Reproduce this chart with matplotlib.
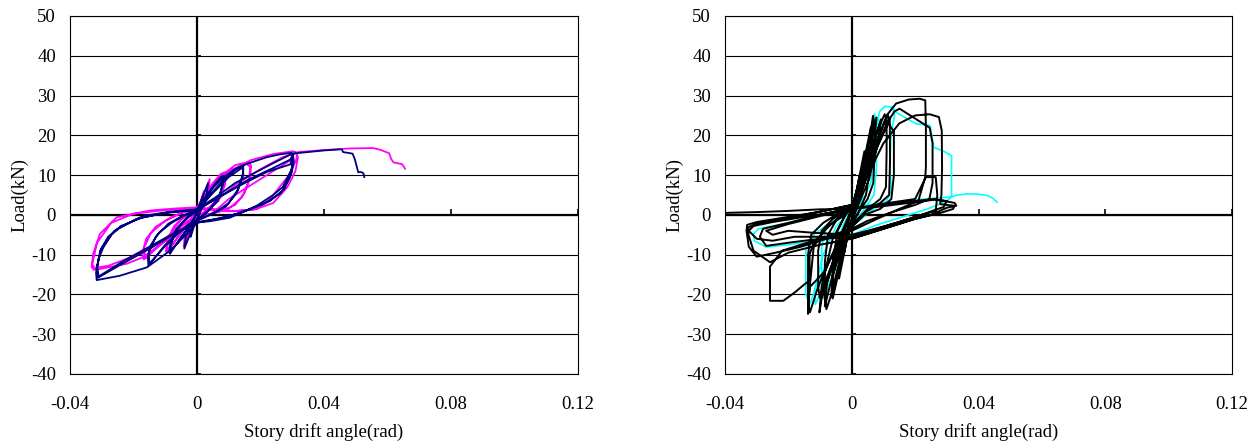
import matplotlib
matplotlib.use("Agg")
import matplotlib.pyplot as plt

plt.rcParams['font.family'] = ['Liberation Serif', 'DejaVu Serif']
plt.rcParams['font.size'] = 13.5

# ---- left panel : two specimens (magenta, navy) ----
mag_drift = [0, 0.001, 0.0022, 0.0015, 0.0004, -0.001, -0.0022, -0.0015, -0.0004,
             0.0015, 0.003, 0.004, 0.0037, 0.002, 0, -0.0015, -0.003, -0.0042, -0.0038, -0.002, 0,
             0.002, 0.005, 0.0075, 0.009, 0.0088, 0.0075, 0.005, 0.002, 0, -0.003, -0.006, -0.0085, -0.0095, -0.0092, -0.0078, -0.005, -0.002, 0,
             0.003, 0.006, 0.0092, 0.0088, 0.0068, 0.003, 0, -0.004, -0.0075, -0.0098, -0.0094, -0.0072, -0.003, 0,
             0.004, 0.008, 0.012, 0.0162, 0.017, 0.0168, 0.015, 0.012, 0.007, 0.002, -0.003, -0.008, -0.012, -0.0155, -0.0168, -0.0172, -0.016, -0.013, -0.008, -0.003, 0,
             0.005, 0.01, 0.0155, 0.0168, 0.0163, 0.0142, 0.01, 0.004, 0, -0.005, -0.01, -0.0162, -0.0168, -0.0145, -0.01, -0.004, 0,
             0.001, 0.0051, 0.0093, 0.0167, 0.024, 0.0303, 0.0316, 0.0312, 0.029, 0.026, 0.0225, 0.0188, 0.0114, 0.005, 0, -0.007, -0.0148, -0.0253, -0.0306, -0.0327, -0.0332, -0.0325, -0.0306, -0.0222, -0.0169, -0.0127, -0.0054, 0, 0.005,
             0.01, 0.02, 0.029, 0.031, 0.0318, 0.031, 0.0285, 0.024, 0.018, 0.01, 0, -0.01, -0.02, -0.027, -0.0315, -0.033, -0.0322, -0.028, -0.022, -0.015, -0.008, 0,
             0.006, 0.012, 0.02, 0.027, 0.032, 0.04, 0.048, 0.0555, 0.058, 0.0605, 0.0612, 0.0619, 0.063, 0.0645, 0.065, 0.0655]
mag_load = [0, 3, 6, 3, 0, -2.5, -5.5, -3, 0.3,
            4, 7, 9, 6, 2, 0, -2.5, -5.5, -8, -5, -1, 1.2,
            4, 8, 10.3, 10.8, 9, 5.5, 2.5, 0.5, -0.5, -2.5, -5.5, -8.5, -9.5, -7.5, -4, -1.2, 0.6, 1.5,
            5, 8.5, 10.5, 7.5, 3.5, 1, -0.3, -3.5, -7.2, -9.2, -6.5, -2.8, 0.5, 1.6,
            6.5, 10, 12.5, 13.3, 12.5, 9.5, 5.5, 2.5, 0.8, -0.2, -1.5, -4.5, -7.5, -10.5, -11.2, -9.5, -6, -3, -0.5, 1, 1.8,
            7.5, 11, 13, 12, 8.5, 4.5, 1.5, 0.2, -0.6, -2.8, -6.5, -10.8, -8.5, -4.5, -1.5, 0.8, 1.8,
            2.8, 7, 9.9, 13.7, 15.3, 16, 15.5, 13.7, 10, 7, 3.5, 1.5, 0.9, 1.5, 1.9, 1.6, 1.1, -0.6, -4.8, -9.8, -13.1, -13.8, -13.6, -12.3, -10.6, -8.1, -3.9, -1.4, 0.5,
            4, 9, 13.5, 15.8, 14.5, 11, 7, 3, 1.3, 0.9, 1.5, 1.2, 0.3, -2, -7, -12.5, -13.3, -12.8, -11, -8.5, -5, -1,
            3.5, 7.5, 11.5, 14.5, 15.8, 16.3, 16.7, 16.8, 16.3, 15.5, 14, 13.2, 13, 12.8, 12.3, 11.6]

navy_drift = [0, 0.001, 0.002, 0.0015, 0.0005, -0.001, -0.002, -0.0015, -0.0005,
              0.001, 0.0025, 0.0035, 0.003, 0.0015, 0, -0.0015, -0.003, -0.004, -0.0035, -0.0015, 0,
              0.002, 0.005, 0.0075, 0.0083, 0.0082, 0.007, 0.004, 0.001, -0.002, -0.005, -0.0075, -0.0085, -0.0083, -0.007, -0.004, -0.001,
              0.002, 0.0055, 0.0083, 0.0081, 0.0065, 0.003, 0, -0.003, -0.006, -0.0087, -0.0084, -0.0065, -0.003, 0,
              0.004, 0.008, 0.012, 0.0146, 0.0145, 0.013, 0.01, 0.006, 0.002, -0.002, -0.006, -0.01, -0.013, -0.0153, -0.0155, -0.0145, -0.012, -0.008, -0.004, 0,
              0.005, 0.01, 0.0145, 0.0146, 0.0125, 0.009, 0.004, 0, -0.005, -0.01, -0.015, -0.0152, -0.013, -0.009, -0.004, 0,
              0.004, 0.0082, 0.0125, 0.0167, 0.022, 0.026, 0.0298, 0.0303, 0.0298, 0.027, 0.024, 0.0188, 0.0104, 0.004, 0, -0.0022, -0.0085, -0.0158, -0.0243, -0.0316, -0.0318, -0.031, -0.0295, -0.027, -0.0243, -0.0169, -0.0085, 0,
              0.007, 0.015, 0.022, 0.0294, 0.0302, 0.0305, 0.0298, 0.0275, 0.023, 0.016, 0.008, 0, -0.007, -0.015, -0.023, -0.031, -0.0314, -0.0305, -0.028, -0.024, -0.017, -0.009, 0,
              0.008, 0.016, 0.024, 0.0296, 0.03, 0.0302, 0.0293, 0.0265, 0.021, 0.013, 0.005, 0, -0.008, -0.016, -0.024, -0.0312, -0.0316, -0.0302, -0.026, -0.019, -0.01, 0,
              0.006, 0.012, 0.018, 0.024, 0.03, 0.035, 0.04, 0.0456, 0.046, 0.049, 0.0497, 0.0508, 0.0515, 0.0524, 0.0527]
navy_load = [0, 2.5, 5, 2.5, -0.5, -3, -5.5, -3, 0,
             3, 6, 8, 5, 1.5, -1, -3.5, -6.5, -8.5, -5.5, -1.5, 0.5,
             3, 7, 9.5, 9.9, 8, 4.5, 1.5, -0.8, -2.5, -5.5, -8.5, -9.8, -8, -4.5, -1.5, 0.5,
             3.5, 7.5, 9.7, 7.5, 3.5, 0.5, -1.2, -3.5, -7, -9.5, -7, -3.5, -0.5, 1,
             5, 8.5, 11.3, 12.4, 10.5, 6.5, 3, 0.8, -0.8, -2, -4.5, -7.5, -10.5, -12.7, -10.5, -7.5, -4.5, -2, -0.2, 1,
             5.5, 9.5, 12, 10, 5.5, 2, 0, -1.3, -4, -7.8, -12.3, -9.5, -5.5, -2.2, 0, 1.2,
             6, 9.4, 11.8, 13.1, 14.5, 15.2, 15.6, 14, 11.5, 7, 5, 2.3, -0.7, -1.6, -1.9, -4, -9, -13.2, -15.3, -16.4, -14.5, -11, -8.2, -5, -3.2, -0.25, 0.8, 1.3,
             4.5, 8, 10.8, 12.7, 15.2, 13.5, 10.5, 6.5, 3.5, 1.2, -0.8, -1.8, -4.5, -8, -11.5, -15.5, -13, -9, -5.5, -2.8, -0.6, 0.6, 1.2,
             5, 8.8, 11.8, 14, 15, 13, 9.5, 5.5, 2.8, 0.3, -1.2, -2, -5.2, -9, -12.5, -15.8, -13.5, -8.5, -4, -1, 0.5, 1.4,
             4.5, 8, 10.5, 13, 15.4, 15.8, 16.2, 16.5, 15.8, 15.4, 14, 10.7, 10.8, 10.5, 9.5]

# ---- right panel : two specimens (cyan, black) ----
cyan_drift = [0, 0.002, 0.004, 0.005, 0.0048, 0.003, 0, -0.002, -0.004, -0.005, -0.0048, -0.003, 0,
              0.003, 0.0055, 0.0072, 0.0078, 0.0078, 0.007, 0.004, 0, -0.003, -0.006, -0.009, -0.0095, -0.0095, -0.008, -0.004, 0,
              0.003, 0.006, 0.0085, 0.0082, 0.006, 0.003, 0, -0.003, -0.006, -0.0085, -0.0115, -0.0118, -0.009, -0.005, 0,
              0.004, 0.007, 0.0088, 0.0105, 0.0128, 0.0135, 0.0125, 0.012, 0.0125, 0.011, 0.006, 0, -0.005, -0.009, -0.0133, -0.0145, -0.0145, -0.012, -0.006, 0,
              0.005, 0.009, 0.0128, 0.0141, 0.0203, 0.0247, 0.0259, 0.029, 0.0315, 0.0315, 0.03, 0.024, 0.016, 0.008, 0, -0.01, -0.02, -0.027, -0.0308, -0.031, -0.0295, -0.02, -0.01, 0,
              0.01, 0.02, 0.028, 0.0315, 0.0328, 0.0365, 0.04, 0.0427, 0.0445, 0.0459]
cyan_load = [0, 7, 14, 18, 12, 4, -1.5, -7, -13, -17, -11, -3, 1.5,
             9, 18, 25.4, 22, 12, 5, 1.5, -2.5, -8, -15, -21, -18, -8, -3, 0, 2.5,
             10, 19, 24, 18, 8, 3, -1, -6, -12, -17, -22.5, -19, -10, -3, 1.5,
             10, 20, 26, 27.3, 27.1, 25, 21, 12.7, 6, 3.5, 1, -3, -8, -14, -22.4, -20, -9, -5, -1.5, 2.5,
             12, 22, 27.1, 25.7, 22.9, 22.5, 17, 16, 14.9, 4.5, 3.5, 1.5, -0.5, -2.5, -5, -6.5, -7.5, -8.1, -6.5, -4.8, -3.5, -2, 0, 2,
             3, 3.8, 4.3, 4.5, 4.9, 5.3, 5.2, 4.9, 4.2, 3.2]

blk_drift = [0, 0.001, 0.002, 0.0025, 0.002, 0.0008, 0, -0.001, -0.002, -0.0025, -0.002, -0.0008, 0,
             0.0015, 0.003, 0.004, 0.0035, 0.002, 0, -0.0015, -0.003, -0.004, -0.0035, -0.002, 0,
             0.002, 0.0035, 0.005, 0.006, 0.0063, 0.0058, 0.0045, 0.002, 0, -0.002, -0.0035, -0.005, -0.006, -0.0063, -0.0058, -0.0045, -0.002, 0,
             0.003, 0.0055, 0.0068, 0.0062, 0.004, 0.001, -0.002, -0.004, -0.0065, -0.0058, -0.003, 0,
             0.003, 0.006, 0.0078, 0.0072, 0.0045, 0.001, -0.003, -0.006, -0.0085, -0.0078, -0.004, 0,
             0.002, 0.004, 0.0058, 0.0067, 0.0072, 0.0072, 0.0068, 0.005, 0.002, 0, -0.002, -0.004, -0.006, -0.008, -0.0085, -0.0085, -0.0075, -0.005, -0.002, 0,
             0.003, 0.0065, 0.0092, 0.0085, 0.0055, 0.0015, -0.003, -0.0065, -0.0095, -0.0102, -0.0095, -0.006, -0.002, 0,
             0.003, 0.006, 0.0085, 0.0104, 0.011, 0.011, 0.0108, 0.009, 0.005, 0, -0.003, -0.006, -0.0085, -0.0101, -0.0106, -0.0106, -0.0095, -0.006, -0.002, 0,
             0.003, 0.006, 0.009, 0.0114, 0.012, 0.0121, 0.0118, 0.009, 0.004, 0, -0.004, -0.008, -0.011, -0.0132, -0.0138, -0.0138, -0.0128, -0.009, -0.004, 0,
             0.004, 0.008, 0.011, 0.0135, 0.0151, 0.0246, 0.0255, 0.0255, 0.0245, 0.02, 0.012, 0.005, 0, -0.008, -0.016, -0.022, -0.0258, -0.0258, -0.0258, -0.0216, -0.018, -0.015, -0.0133, -0.0133, -0.012, -0.008, -0.004, 0,
             0.004, 0.008, 0.011, 0.014, 0.018, 0.0214, 0.0232, 0.0234, 0.0234, 0.0232, 0.021, 0.015, 0.008, 0, -0.008, -0.016, -0.024, -0.03, -0.0325, -0.0332, -0.033, -0.03, -0.02, -0.01, 0,
             0.005, 0.01, 0.015, 0.02, 0.0246, 0.0275, 0.0284, 0.0285, 0.0283, 0.0279, 0.03, 0.0324, 0.032, 0.028, 0.02, 0.01, 0, -0.01, -0.02, -0.0258, -0.031, -0.0326, -0.0326, -0.03, -0.02, -0.01, 0,
             0.004, 0.008, 0.0115, 0.0133, 0.0133, 0.0125, 0.009, 0.004, 0, -0.004, -0.0083, -0.0133, -0.0138, -0.0135, -0.012, -0.008, -0.003, 0,
             0.01, 0.02, 0.026, 0.0325, 0.033, 0.03, 0.025, 0.02, 0.012, 0, -0.008, -0.018, -0.025, -0.03, -0.0325, -0.031, -0.025, -0.015, -0.005, 0,
             0.01, 0.02, 0.0234, 0.0265, 0.027, 0.0265, 0.02, 0.01, 0, -0.01, -0.02, -0.027, -0.029, -0.028, -0.02, -0.01, 0,
             0.008, 0.018, 0.026, 0.03, 0.029, 0.023, 0.015, 0.005, 0, -0.012, -0.02, -0.025, -0.027, -0.02, -0.01, 0,
             -0.01, -0.02, -0.03, -0.0405]
blk_load = [0, 4, 8, 10, 6, 1, -1, -4, -8, -10, -6, -1, 1,
            6, 12, 16, 10, 3, -1.5, -6, -12, -16, -10, -3, 1.5,
            6, 12, 18, 22, 20, 12, 5, 0.5, -2, -6, -12, -17.5, -21, -19, -11, -4, 0, 2,
            10, 19, 23.5, 18, 8, 1, -6, -12, -20.5, -15, -5, 1.5,
            9, 18, 24.5, 19, 9, 1, -8, -15, -23, -17, -6, 1.5,
            6, 13, 20, 24.9, 23, 15, 8, 4, 0.5, -2.5, -7, -13, -19, -23.7, -21, -12, -5, -1.5, 0.8, 2.5,
            8, 17, 24, 19, 9, 1.5, -7, -14, -21, -24.5, -18, -6, 0, 2,
            8, 16, 22, 25.3, 24, 16, 7, 4, 1.5, -2.5, -6, -12, -17, -20.8, -18, -9, -4, -1, 1, 2.5,
            7, 15, 21, 25, 24, 14, 5, 3, 0.5, -3, -7, -13, -19, -24.5, -22, -10, -5, -2, 0.5, 2.5,
            8, 17, 23, 26, 26.7, 21.9, 18, 8, 4, 2.5, 0.5, -1.5, -3.5, -5.5, -7.5, -9, -13, -18, -21.6, -21.6, -19.5, -17.5, -16.5, -10, -7, -3.5, -0.5, 2.5,
            9, 18, 25, 28, 29, 29.2, 28.8, 22, 12, 9.5, 3.5, 1.5, -1, -4, -6, -8, -9.5, -10.5, -8, -4, -2.5, -1.8, -0.5, 0.8, 2.5,
            10, 18, 23, 25, 25.3, 24.6, 21.2, 12, 5, 2.7, 2.5, 2.3, 1.5, 0.5, -1, -3.5, -6, -7.5, -9.5, -11.9, -9, -5, -3.1, -2.2, -0.8, 0.8, 2.5,
            9, 17, 23, 21, 10, 4, 1.5, 0, -3, -6, -14, -18.2, -24.9, -20, -8, -3, -0.5, 1.5,
            2.5, 3.5, 4, 3, 2.3, 1.8, 0, -1, -3, -6, -5.5, -5.5, -6.5, -6, -4, -2.8, -1.8, -0.5, 0.8, 1.5,
            2.8, 4, 9.5, 9.5, 5, 1, -0.5, -3, -5.5, -6, -7, -7.8, -5.5, -3.5, -2, 0, 1.8,
            2, 3, 3.8, 3.5, 2, 0.3, -1.8, -4, -5, -4.5, -4, -5, -4, -2.3, -0.3, 1.5,
            1.4, 1.0, 0.7, 0.5]

x_ticks = [-0.04, 0, 0.04, 0.08, 0.12]
x_labels = ['-0.04', '0', '0.04', '0.08', '0.12']
y_ticks = list(range(-40, 51, 10))

fig = plt.figure(figsize=(12.58, 4.41), dpi=100)
ax1 = fig.add_axes([70 / 1258, 67 / 441, 508 / 1258, 358 / 441])
ax2 = fig.add_axes([725 / 1258, 67 / 441, 507 / 1258, 358 / 441])


def style(ax):
    ax.set_xlim(-0.04, 0.12)
    ax.set_ylim(-40, 50)
    ax.set_xticks(x_ticks)
    ax.set_xticklabels(x_labels)
    ax.set_yticks(y_ticks)
    ax.set_yticklabels([str(v) for v in y_ticks])
    ax.tick_params(axis='y', length=0, pad=10)
    ax.tick_params(axis='x', length=0, pad=16)
    ax.grid(axis='y', color='black', lw=0.8)
    ax.set_axisbelow(True)
    for s in ax.spines.values():
        s.set_linewidth(0.8)
    # axes through the origin with small ticks
    ax.axvline(0, color='black', lw=1.6, zorder=1.5)
    ax.axhline(0, color='black', lw=1.6, zorder=1.5)
    ax.hlines(y_ticks, 0, 0.0014, color='black', lw=1.2, zorder=1.5)
    ax.vlines(x_ticks[1:], 0, 1.4, color='black', lw=1.2, zorder=1.5)
    ax.set_ylabel('Load(kN)')
    ax.yaxis.set_label_coords(-50 / 508, 0.5)
    ax.yaxis.label.set_va('center')
    ax.set_xlabel('Story drift angle(rad)')
    ax.xaxis.set_label_coords(0.5, -58 / 358)
    ax.xaxis.label.set_va('center')


style(ax1)
ax1.plot(mag_drift, mag_load, color='#FF00FF', lw=1.3, zorder=2)
ax1.plot(navy_drift, navy_load, color='#000080', lw=1.3, zorder=3)

style(ax2)
ax2.plot(cyan_drift, cyan_load, color='#00FFFF', lw=1.2, zorder=2)
ax2.plot(blk_drift, blk_load, color='black', lw=1.4, zorder=3)

plt.savefig('out.png', dpi=100)
